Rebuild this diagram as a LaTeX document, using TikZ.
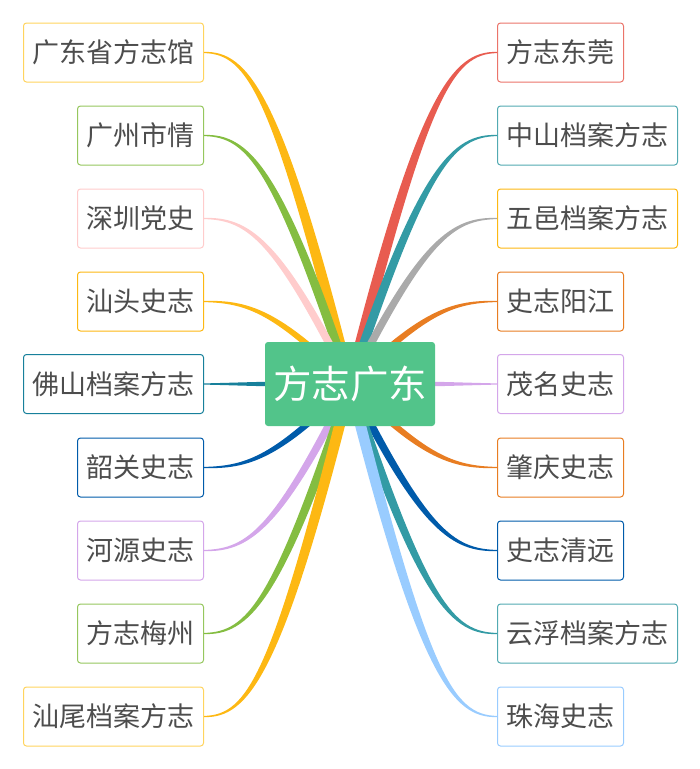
\documentclass[tikz,border=0pt]{standalone}
\usepackage{fontspec}
\newfontfamily\cjk{Noto Sans CJK SC}
\usetikzlibrary{calc}
\definecolor{jade}{HTML}{52C48A}
\definecolor{amber}{HTML}{FDB813}
\definecolor{amberlight}{HTML}{FFD45E}
\definecolor{leaf}{HTML}{84BD41}
\definecolor{blush}{HTML}{FFCCCC}
\definecolor{petrol}{HTML}{17809B}
\definecolor{cobalt}{HTML}{005BAA}
\definecolor{lilac}{HTML}{D4A6EA}
\definecolor{coral}{HTML}{E85C50}
\definecolor{lagoon}{HTML}{339BA5}
\definecolor{ash}{HTML}{AAAAAA}
\definecolor{tangerine}{HTML}{E87D22}
\definecolor{sky}{HTML}{99CCFF}
\definecolor{ink}{HTML}{4D4D4D}

% tapered branch from a leaf anchor to the hub
\newcommand{\limb}[3]{%
  \fill[#3] let \p1=(#1.#2), \p2=(hub),
      \p3=({\x1+0.3*(\x2-\x1)},\y1),
      \p4=({\x2-0.5*(\x2-\x1)},{\y2-0.88*(\y2-\y1)}),
      \n1={1.6+veclen(\x2-\x1,\y2-\y1)/95}
    in ($(\p1)!0.6pt!90:(\p3)$)
       .. controls ($(\p3)!1.6pt!-90:(\p1)$) and ($(\p4)!\n1*1pt!90:(\p2)$)
       .. ($(\p2)!\n1*1pt!-90:(\p4)$)
    -- ($(\p2)!\n1*1pt!90:(\p4)$)
       .. controls ($(\p4)!\n1*1pt!-90:(\p2)$) and ($(\p3)!1.6pt!90:(\p1)$)
       .. ($(\p1)!0.6pt!-90:(\p3)$) -- cycle;}

\begin{document}
\begin{tikzpicture}[x=1pt, y=1pt,
    every node/.style={font=\cjk},
    leafbox/.style={rectangle, rounded corners=3pt, line width=1pt, fill=white,
        text=ink, minimum height=59pt, inner xsep=9pt,
        font=\cjk\fontsize{27}{30}\selectfont},
    westleaf/.style={leafbox, anchor=east},
    eastleaf/.style={leafbox, anchor=west},
    hubbox/.style={rectangle, rounded corners=3pt, fill=jade, text=white,
        minimum width=170pt, minimum height=84pt,
        font=\cjk\fontsize{38.5}{40}\selectfont},
]
\useasboundingbox (0,0) rectangle (700,-769);

% Left column
\node[westleaf, draw=amberlight] (gdsfzg) at (204,-52.5) {广东省方志馆};
\node[westleaf, draw=leaf!85] (gzsq) at (204,-135.5) {广州市情};
\node[westleaf, draw=blush] (szds) at (204,-218.5) {深圳党史};
\node[westleaf, draw=amber] (stsz) at (204,-301.5) {汕头史志};
\node[westleaf, draw=petrol] (fsda) at (204,-384) {佛山档案方志};
\node[westleaf, draw=cobalt] (sgsz) at (204,-467.5) {韶关史志};
\node[westleaf, draw=lilac] (hysz) at (204,-550.5) {河源史志};
\node[westleaf, draw=leaf!85] (fzmz) at (204,-633.5) {方志梅州};
\node[westleaf, draw=amberlight] (swda) at (204,-716.5) {汕尾档案方志};

% Right column
\node[eastleaf, draw=coral!85] (fzdg) at (497,-52.5) {方志东莞};
\node[eastleaf, draw=lagoon!85] (zsda) at (497,-135.5) {中山档案方志};
\node[eastleaf, draw=amber] (wyda) at (497,-218.5) {五邑档案方志};
\node[eastleaf, draw=tangerine] (szyj) at (497,-301.5) {史志阳江};
\node[eastleaf, draw=lilac] (mmsz) at (497,-384) {茂名史志};
\node[eastleaf, draw=tangerine] (zqsz) at (497,-467.5) {肇庆史志};
\node[eastleaf, draw=cobalt] (szqy) at (497,-550.5) {史志清远};
\node[eastleaf, draw=lagoon!85] (yfda) at (497,-633.5) {云浮档案方志};
\node[eastleaf, draw=sky] (zhsz) at (497,-716.5) {珠海史志};

% Branches
\coordinate (hub) at (350,-384);
\limb{gdsfzg}{east}{amber}
\limb{gzsq}{east}{leaf}
\limb{szds}{east}{blush}
\limb{stsz}{east}{amber}
\limb{fsda}{east}{petrol}
\limb{sgsz}{east}{cobalt}
\limb{hysz}{east}{lilac}
\limb{fzmz}{east}{leaf}
\limb{swda}{east}{amber}
\limb{fzdg}{west}{coral}
\limb{zsda}{west}{lagoon}
\limb{wyda}{west}{ash}
\limb{szyj}{west}{tangerine}
\limb{mmsz}{west}{lilac}
\limb{zqsz}{west}{tangerine}
\limb{szqy}{west}{cobalt}
\limb{yfda}{west}{lagoon}
\limb{zhsz}{west}{sky}

% Central topic
\node[hubbox] (root) at (hub) {方志广东};

\end{tikzpicture}
\end{document}
